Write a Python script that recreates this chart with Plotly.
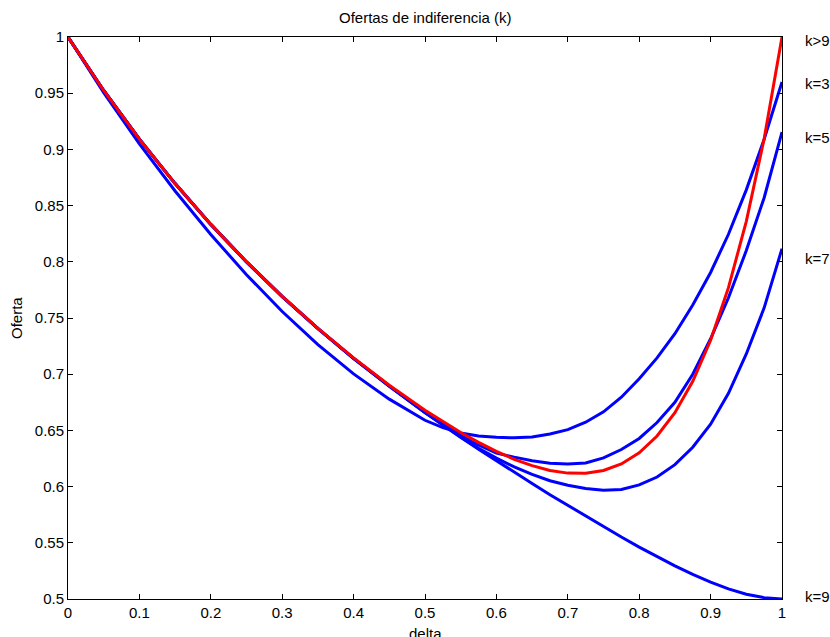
import plotly.graph_objects as go

# delta values (x axis)
delta = [0.0, 0.05, 0.1, 0.15, 0.2, 0.25, 0.3, 0.35, 0.4, 0.45,
         0.5, 0.525, 0.55, 0.575, 0.6, 0.625, 0.65, 0.675, 0.7, 0.725,
         0.75, 0.775, 0.8, 0.825, 0.85, 0.875, 0.9, 0.925, 0.95, 0.975, 1.0]

oferta_k3 = [1.0, 0.9505, 0.9050, 0.8630, 0.8243, 0.7885, 0.7558, 0.7263, 0.7003, 0.6778,
             0.6590, 0.6524, 0.6477, 0.6450, 0.6438, 0.6434, 0.6442, 0.6468, 0.6507, 0.6573,
             0.6665, 0.6795, 0.6960, 0.7145, 0.7360, 0.7615, 0.7905, 0.8245, 0.8640, 0.9090, 0.9600]

oferta_k5 = [1.0, 0.9524, 0.9091, 0.8696, 0.8333, 0.7999, 0.7691, 0.7406, 0.7141, 0.6896,
             0.6660, 0.6555, 0.6455, 0.6370, 0.6298, 0.6262, 0.6230, 0.6208, 0.6200, 0.6210,
             0.6255, 0.6330, 0.6428, 0.6570, 0.6750, 0.7000, 0.7315, 0.7680, 0.8100, 0.8570, 0.9154]

oferta_k7 = [1.0, 0.9524, 0.9091, 0.8696, 0.8333, 0.7999, 0.7691, 0.7406, 0.7140, 0.6894,
             0.6658, 0.6545, 0.6440, 0.6340, 0.6253, 0.6175, 0.6108, 0.6052, 0.6012, 0.5983,
             0.5968, 0.5975, 0.6015, 0.6085, 0.6195, 0.6350, 0.6555, 0.6830, 0.7180, 0.7590, 0.8117]

oferta_k9 = [1.0, 0.9524, 0.9091, 0.8696, 0.8333, 0.7999, 0.7692, 0.7407, 0.7141, 0.6893,
             0.6660, 0.6548, 0.6439, 0.6333, 0.6229, 0.6127, 0.6027, 0.5928, 0.5832, 0.5736,
             0.5643, 0.5551, 0.5462, 0.5377, 0.5295, 0.5219, 0.5150, 0.5090, 0.5043, 0.5012, 0.5000]

oferta_kmas9 = [1.0, 0.9524, 0.9091, 0.8696, 0.8333, 0.8000, 0.7693, 0.7408, 0.7145, 0.6902,
                0.6680, 0.6577, 0.6481, 0.6393, 0.6313, 0.6243, 0.6186, 0.6144, 0.6120, 0.6118,
                0.6143, 0.6202, 0.6301, 0.6450, 0.6657, 0.6937, 0.7302, 0.7770, 0.8360, 0.9095, 1.0]

curve_labels = ["k>9", "k=3", "k=5", "k=7", "k=9"]
curve_label_y = [0.997, 0.9587, 0.9107, 0.8027, 0.5018]

x_ticks = [0, 0.1, 0.2, 0.3, 0.4, 0.5, 0.6, 0.7, 0.8, 0.9, 1.0]
x_tick_labels = ["0", "0.1", "0.2", "0.3", "0.4", "0.5", "0.6", "0.7", "0.8", "0.9", "1"]
y_ticks = [0.5, 0.55, 0.6, 0.65, 0.7, 0.75, 0.8, 0.85, 0.9, 0.95, 1.0]
y_tick_labels = ["0.5", "0.55", "0.6", "0.65", "0.7", "0.75", "0.8", "0.85", "0.9", "0.95", "1"]

FONT = "Liberation Sans, Arial, Helvetica, sans-serif"
FS = 15

fig = go.Figure()
for ys in [oferta_k3, oferta_k5, oferta_k7, oferta_k9]:
    fig.add_trace(go.Scatter(x=delta, y=ys, mode="lines",
                             line=dict(color="#0000FF", width=3), showlegend=False,
                             hoverinfo="skip"))
fig.add_trace(go.Scatter(x=delta, y=oferta_kmas9, mode="lines",
                         line=dict(color="#FF0000", width=3), showlegend=False,
                         hoverinfo="skip"))

axis_common = dict(showgrid=False, zeroline=False, showline=True, linecolor="black",
                   linewidth=1, mirror="ticks", ticks="inside", ticklen=5,
                   tickcolor="black", tickwidth=1,
                   tickfont=dict(family=FONT, size=FS, color="black"))

fig.update_layout(
    width=830, height=637,
    margin=dict(l=68, r=48, t=37, b=38),
    paper_bgcolor="white", plot_bgcolor="white",
    font=dict(family=FONT, size=FS, color="black"),
    xaxis=dict(range=[0, 1], tickmode="array", tickvals=x_ticks, ticktext=x_tick_labels,
               **axis_common),
    yaxis=dict(range=[0.5, 1], tickmode="array", tickvals=y_ticks, ticktext=y_tick_labels,
               **axis_common),
)

for lab, ly in zip(curve_labels, curve_label_y):
    fig.add_annotation(x=1.03, y=ly, xref="paper", yref="y", text=lab, showarrow=False,
                       xanchor="left", yanchor="middle",
                       font=dict(family=FONT, size=FS, color="black"))

fig.add_annotation(x=0.5, y=1.034, xref="paper", yref="paper",
                   text="Ofertas de indiferencia (k)", showarrow=False,
                   xanchor="center", yanchor="middle",
                   font=dict(family=FONT, size=FS, color="black"))
fig.add_annotation(x=0.5, y=-0.0605, xref="paper", yref="paper", text="delta",
                   showarrow=False, xanchor="center", yanchor="middle",
                   font=dict(family=FONT, size=FS, color="black"))
fig.add_annotation(x=-0.0728, y=0.5, xref="paper", yref="paper", text="Oferta",
                   showarrow=False, textangle=-90, xanchor="center", yanchor="middle",
                   font=dict(family=FONT, size=FS, color="black"))

# remove the default 8px page margin so the 830x637 figure fills the window exactly
fig.write_html("out.html",
               config={"displayModeBar": False},
               post_script="document.body.style.margin='0px';document.body.style.overflow='hidden';")
